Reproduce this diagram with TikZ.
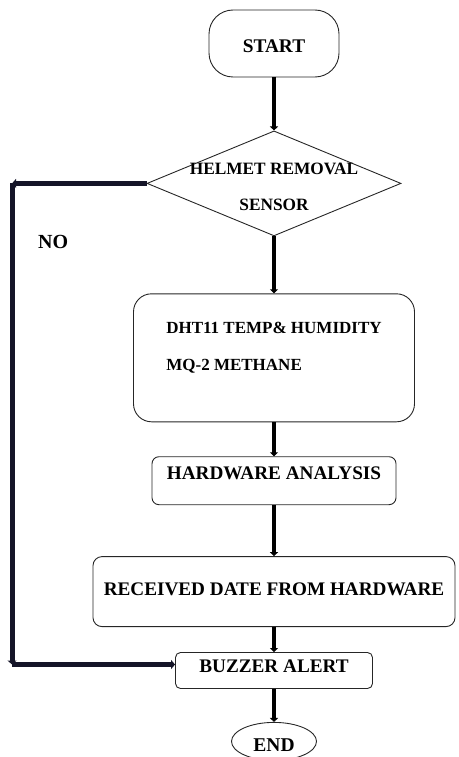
\documentclass[tikz,border=0pt]{standalone}
\usepackage{fontspec}
\setmainfont{Liberation Serif}
\usepackage{xcolor}
\usetikzlibrary{positioning,arrows.meta,shapes.geometric}
\definecolor{loopline}{RGB}{20,20,40}

\begin{document}
\begin{tikzpicture}[
        node distance=30pt,
        box/.style={draw=black!85, line width=0.9pt, inner sep=0pt, font=\bfseries\fontsize{19.2}{23}\selectfont},
        term/.style={box, rounded corners=24pt},
        proc/.style={box, rounded corners=7pt},
        decision/.style={box, diamond, align=center, font=\bfseries\fontsize{17.3}{20}\selectfont},
        arr/.style={line width=3.5pt, -{Triangle[length=4pt,width=8pt]}},
        noarr/.style={line width=5pt, draw=loopline, -{Triangle[length=4pt,width=9pt]}},
    ]
        \useasboundingbox (0,0) rectangle (458pt,-757pt);

        \node[term, minimum width=130pt, minimum height=67pt, text height=19pt, text depth=0pt,
              font=\bfseries\fontsize{19.3}{23}\selectfont] (start) at (274pt,-43.5pt) {START};
        \node[decision, below=53pt of start, minimum width=254pt, minimum height=105pt,
              text height=55pt, text depth=0pt] (helmet)
              {\makebox[0pt]{HELMET REMOVAL}\\[16pt]\makebox[0pt]{SENSOR}};
        \node[proc, rounded corners=18pt, below=57pt of helmet, minimum width=281pt, minimum height=128pt,
              align=left, text height=40pt, text depth=14pt,
              font=\bfseries\fontsize{17}{20}\selectfont] (sensors)
              {DHT11 TEMP\& HUMIDITY\\[17pt]MQ-2 METHANE};
        \node[proc, below=34pt of sensors, minimum width=244pt, minimum height=48pt,
              text height=12pt, text depth=14pt] (analysis) {HARDWARE ANALYSIS};
        \node[proc, rounded corners=9pt, below=51pt of analysis, minimum width=362pt, minimum height=70pt,
              text height=14pt, text depth=6pt] (received) {RECEIVED DATE FROM HARDWARE};
        \node[proc, rounded corners=5pt, below=25pt of received, minimum width=197pt, minimum height=36pt,
              text height=13pt, text depth=9pt] (buzzer) {BUZZER ALERT};
        \node[box, ellipse, below=33pt of buzzer, minimum width=85pt, minimum height=38pt,
              text height=21pt, text depth=0pt, font=\bfseries\fontsize{19.5}{23}\selectfont] (end) {END};

        \draw[arr] (start) -- (helmet);
        \draw[arr] (helmet) -- (sensors);
        \draw[arr] (sensors) -- (analysis);
        \draw[arr] (analysis) -- (received);
        \draw[arr] (received) -- (buzzer);
        \draw[arr] (buzzer) -- (end);

        % no branch
        \coordinate[left=134.5pt of helmet.west] (notop);
        \coordinate[above=6pt of buzzer.west] (buzzerin);
        \coordinate (nobottom) at (notop |- buzzerin);
        \draw[noarr] (helmet.west) -- (notop);
        \draw[noarr] (notop) -- (nobottom);
        \draw[noarr] (nobottom) -- (buzzerin);
        \node[anchor=base west, font=\bfseries\fontsize{20}{24}\selectfont] (no)
            at ([shift={(22.5pt,-65.5pt)}]notop) {NO};
    \end{tikzpicture}
\end{document}
